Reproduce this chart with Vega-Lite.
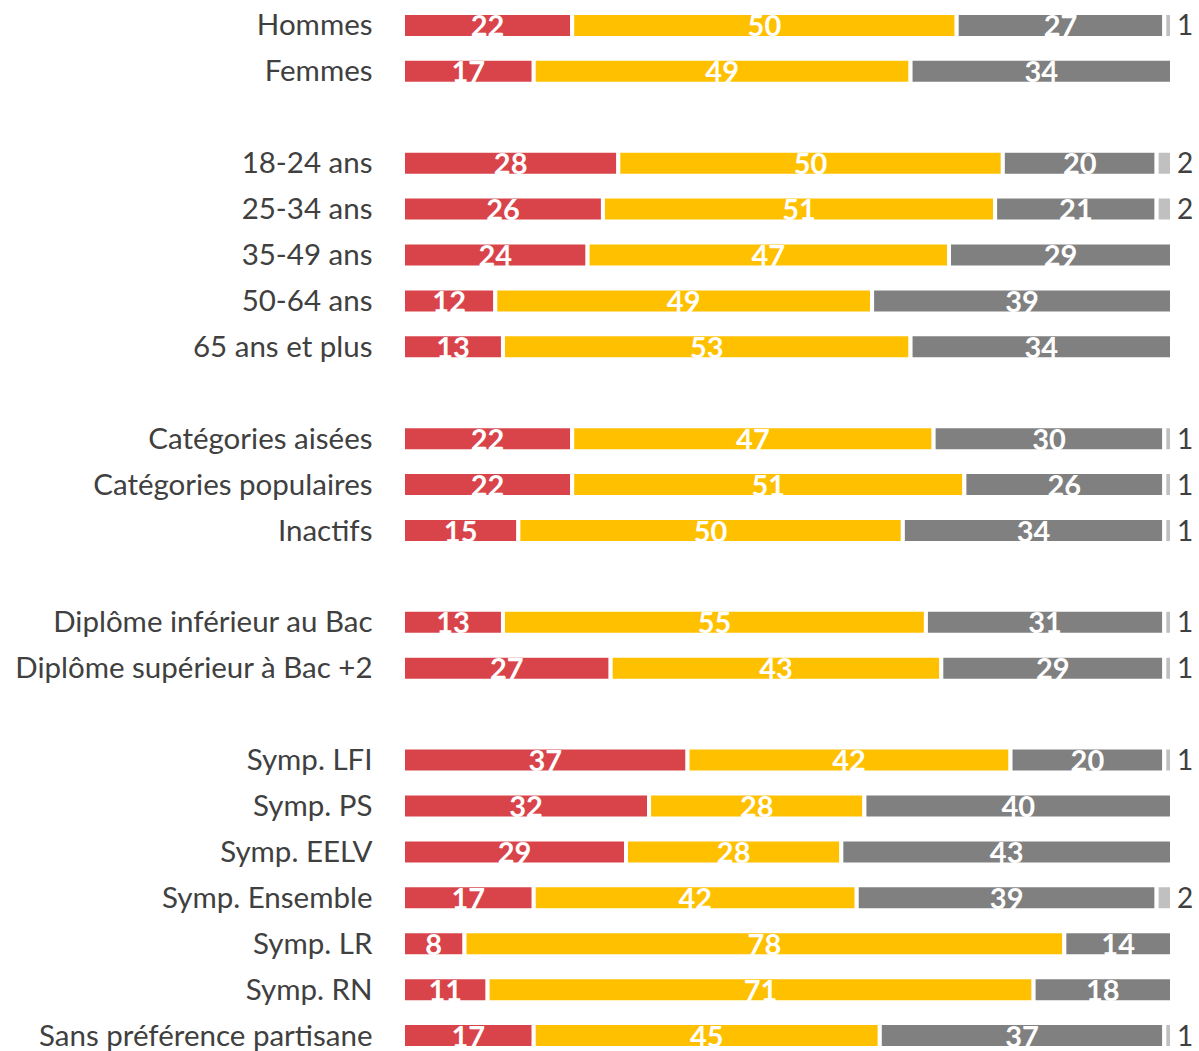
{
  "$schema": "https://vega.github.io/schema/vega-lite/v6.json",
  "autosize": {"type": "none"},
  "padding": {"left": 403, "top": 2.5, "right": 27, "bottom": 0},
  "width": 769,
  "height": 1056,
  "background": "white",
  "config": {"view": {"stroke": null}},
  "data": {
    "values": [
      {"g": "Hommes", "s": "A", "v": 22}, {"g": "Hommes", "s": "B", "v": 50}, {"g": "Hommes", "s": "C", "v": 27}, {"g": "Hommes", "s": "D", "v": 1},
      {"g": "Femmes", "s": "A", "v": 17}, {"g": "Femmes", "s": "B", "v": 49}, {"g": "Femmes", "s": "C", "v": 34},
      {"g": "18-24 ans", "s": "A", "v": 28}, {"g": "18-24 ans", "s": "B", "v": 50}, {"g": "18-24 ans", "s": "C", "v": 20}, {"g": "18-24 ans", "s": "D", "v": 2},
      {"g": "25-34 ans", "s": "A", "v": 26}, {"g": "25-34 ans", "s": "B", "v": 51}, {"g": "25-34 ans", "s": "C", "v": 21}, {"g": "25-34 ans", "s": "D", "v": 2},
      {"g": "35-49 ans", "s": "A", "v": 24}, {"g": "35-49 ans", "s": "B", "v": 47}, {"g": "35-49 ans", "s": "C", "v": 29},
      {"g": "50-64 ans", "s": "A", "v": 12}, {"g": "50-64 ans", "s": "B", "v": 49}, {"g": "50-64 ans", "s": "C", "v": 39},
      {"g": "65 ans et plus", "s": "A", "v": 13}, {"g": "65 ans et plus", "s": "B", "v": 53}, {"g": "65 ans et plus", "s": "C", "v": 34},
      {"g": "Catégories aisées", "s": "A", "v": 22}, {"g": "Catégories aisées", "s": "B", "v": 47}, {"g": "Catégories aisées", "s": "C", "v": 30}, {"g": "Catégories aisées", "s": "D", "v": 1},
      {"g": "Catégories populaires", "s": "A", "v": 22}, {"g": "Catégories populaires", "s": "B", "v": 51}, {"g": "Catégories populaires", "s": "C", "v": 26}, {"g": "Catégories populaires", "s": "D", "v": 1},
      {"g": "Inactifs", "s": "A", "v": 15}, {"g": "Inactifs", "s": "B", "v": 50}, {"g": "Inactifs", "s": "C", "v": 34}, {"g": "Inactifs", "s": "D", "v": 1},
      {"g": "Diplôme inférieur au Bac", "s": "A", "v": 13}, {"g": "Diplôme inférieur au Bac", "s": "B", "v": 55}, {"g": "Diplôme inférieur au Bac", "s": "C", "v": 31}, {"g": "Diplôme inférieur au Bac", "s": "D", "v": 1},
      {"g": "Diplôme supérieur à Bac +2", "s": "A", "v": 27}, {"g": "Diplôme supérieur à Bac +2", "s": "B", "v": 43}, {"g": "Diplôme supérieur à Bac +2", "s": "C", "v": 29}, {"g": "Diplôme supérieur à Bac +2", "s": "D", "v": 1},
      {"g": "Symp. LFI", "s": "A", "v": 37}, {"g": "Symp. LFI", "s": "B", "v": 42}, {"g": "Symp. LFI", "s": "C", "v": 20}, {"g": "Symp. LFI", "s": "D", "v": 1},
      {"g": "Symp. PS", "s": "A", "v": 32}, {"g": "Symp. PS", "s": "B", "v": 28}, {"g": "Symp. PS", "s": "C", "v": 40},
      {"g": "Symp. EELV", "s": "A", "v": 29}, {"g": "Symp. EELV", "s": "B", "v": 28}, {"g": "Symp. EELV", "s": "C", "v": 43},
      {"g": "Symp. Ensemble", "s": "A", "v": 17}, {"g": "Symp. Ensemble", "s": "B", "v": 42}, {"g": "Symp. Ensemble", "s": "C", "v": 39}, {"g": "Symp. Ensemble", "s": "D", "v": 2},
      {"g": "Symp. LR", "s": "A", "v": 8}, {"g": "Symp. LR", "s": "B", "v": 78}, {"g": "Symp. LR", "s": "C", "v": 14},
      {"g": "Symp. RN", "s": "A", "v": 11}, {"g": "Symp. RN", "s": "B", "v": 71}, {"g": "Symp. RN", "s": "C", "v": 18},
      {"g": "Sans préférence partisane", "s": "A", "v": 17}, {"g": "Sans préférence partisane", "s": "B", "v": 45}, {"g": "Sans préférence partisane", "s": "C", "v": 37}, {"g": "Sans préférence partisane", "s": "D", "v": 1}
    ]
  },
  "encoding": {
    "y": {
      "field": "g",
      "type": "nominal",
      "scale": {
        "domain": ["Hommes", "Femmes", "gap1", "18-24 ans", "25-34 ans", "35-49 ans", "50-64 ans", "65 ans et plus", "gap2", "Catégories aisées", "Catégories populaires", "Inactifs", "gap3", "Diplôme inférieur au Bac", "Diplôme supérieur à Bac +2", "gap4", "Symp. LFI", "Symp. PS", "Symp. EELV", "Symp. Ensemble", "Symp. LR", "Symp. RN", "Sans préférence partisane"],
        "paddingInner": 0,
        "paddingOuter": 0
      },
      "axis": {
        "title": null,
        "domain": false,
        "ticks": false,
        "tickSize": 0,
        "grid": false,
        "labelPadding": 31,
        "labelFont": "Lato",
        "labelFontSize": 29.5,
        "labelColor": "#404040",
        "labelBaseline": "alphabetic",
        "labelOffset": 10,
        "labelLimit": 0,
        "labelExpr": "indexof(datum.value, 'gap') === 0 ? '' : datum.value"
      }
    }
  },
  "layer": [
    {
      "mark": {"type": "bar", "size": 25, "stroke": "white", "strokeWidth": 4},
      "encoding": {
        "x": {"field": "v", "type": "quantitative", "stack": "zero", "scale": {"domain": [0, 100], "nice": false, "zero": true}, "axis": null},
        "color": {"field": "s", "type": "nominal", "scale": {"domain": ["A", "B", "C", "D"], "range": ["#D9444B", "#FFC000", "#808080", "#C0C0C0"]}, "legend": null},
        "order": {"field": "s", "type": "ordinal"}
      }
    },
    {
      "transform": [{"filter": "datum.s !== 'D'"}],
      "mark": {"type": "text", "color": "white", "font": "Lato", "fontWeight": "bold", "fontSize": 29, "baseline": "alphabetic", "align": "center", "dy": 11},
      "encoding": {
        "x": {"field": "v", "type": "quantitative", "stack": "zero", "bandPosition": 0.5},
        "text": {"field": "v", "type": "quantitative"},
        "order": {"field": "s", "type": "ordinal"}
      }
    },
    {
      "transform": [
        {"stack": "v", "groupby": ["g"], "sort": [{"field": "s", "order": "ascending"}], "as": ["x0", "x1"]},
        {"filter": "datum.s === 'D'"}
      ],
      "mark": {"type": "text", "color": "#404040", "font": "Lato", "fontSize": 28, "baseline": "alphabetic", "align": "left", "dx": 5, "dy": 10},
      "encoding": {
        "x": {"field": "x1", "type": "quantitative"},
        "text": {"field": "v", "type": "quantitative"}
      }
    }
  ]
}
